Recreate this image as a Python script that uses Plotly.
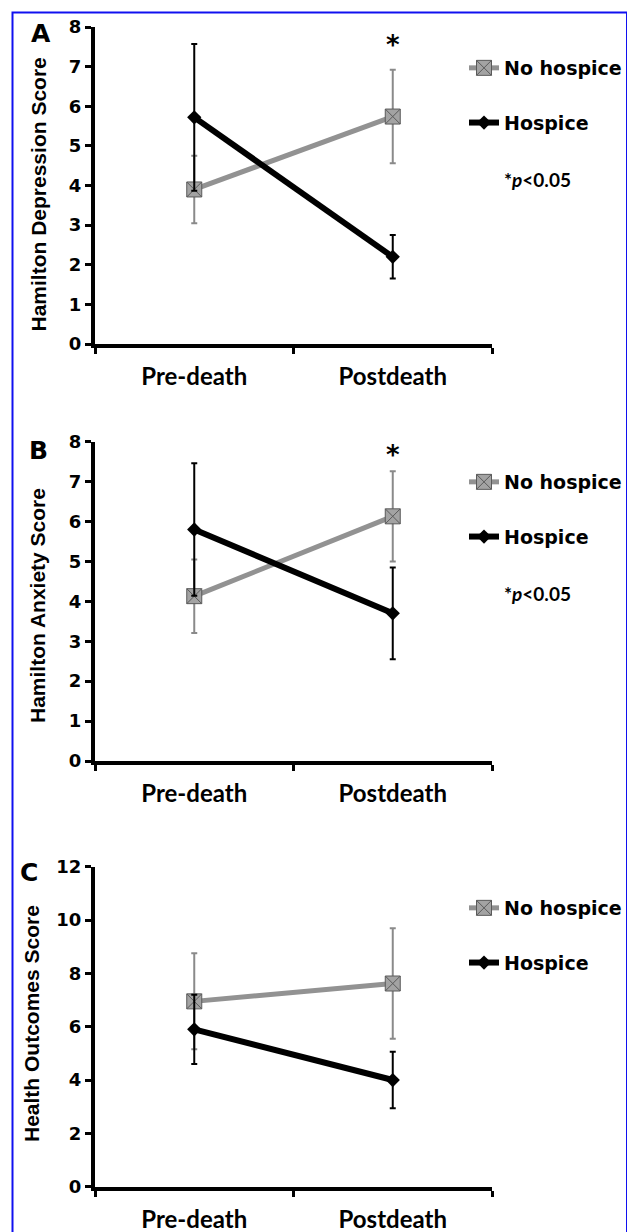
import plotly.graph_objects as go

# The page body adds an 8px offset, so the figure is sized to fill the rest of the window
OFF = 8
W, H = 635 - OFF, 1232 - OFF

categories = ["Pre-death", "Postdeath"]

# Panel A: Hamilton Depression Score
dep_no_hospice = [3.9, 5.74]
dep_no_hospice_err = [0.85, 1.18]
dep_hospice = [5.72, 2.2]
dep_hospice_err = [1.85, 0.55]

# Panel B: Hamilton Anxiety Score
anx_no_hospice = [4.13, 6.13]
anx_no_hospice_err = [0.92, 1.13]
anx_hospice = [5.8, 3.7]
anx_hospice_err = [1.66, 1.15]

# Panel C: Health Outcomes Score
hos_no_hospice = [6.95, 7.62]
hos_no_hospice_err = [1.8, 2.07]
hos_hospice = [5.9, 4.0]
hos_hospice_err = [1.3, 1.06]

panel_letters = ["A", "B", "C"]
y_titles = ["Hamilton Depression Score", "Hamilton Anxiety Score", "Health Outcomes Score"]
y_ranges = [[0, 8], [0, 8], [0, 12]]
y_dticks = [1, 1, 2]
series_names = ["No hospice", "Hospice"]
sig_note = "*<i>p</i><0.05"

GRAY_LINE = "#929292"
GRAY_ERR = "#8a8a8a"
BLACK = "#000000"

# pixel layout (in window pixels)
x_left, x_right = 95, 492
panels_px = [(27, 344), (441.7, 761), (866.7, 1186.7)]
title_pos = [(37.5, 195), (37, 606), (31, 1024)]
letter_pos = [(41, 33), (38, 450), (29, 872)]

def fx(px):
    return (px - OFF) / W

def fy(py):
    return 1 - (py - OFF) / H

data = [
    (dep_no_hospice, dep_no_hospice_err, dep_hospice, dep_hospice_err),
    (anx_no_hospice, anx_no_hospice_err, anx_hospice, anx_hospice_err),
    (hos_no_hospice, hos_no_hospice_err, hos_hospice, hos_hospice_err),
]

fig = go.Figure()
legend_names = ["legend", "legend2", "legend3"]

for i, (nh, nhe, hh, hhe) in enumerate(data):
    xa = "x" if i == 0 else f"x{i+1}"
    ya = "y" if i == 0 else f"y{i+1}"
    fig.add_trace(go.Scatter(
        x=categories, y=nh, name=series_names[0], xaxis=xa, yaxis=ya,
        mode="lines+markers", legend=legend_names[i], legendgroup=f"nh{i}",
        line=dict(color=GRAY_LINE, width=5),
        marker=dict(symbol="square-x", size=15, color="#a3a3a3",
                    line=dict(color="#5a5a5a", width=1)),
        error_y=dict(type="data", array=nhe, color=GRAY_ERR, thickness=2, width=3),
    ))
    fig.add_trace(go.Scatter(
        x=categories, y=hh, name=series_names[1], xaxis=xa, yaxis=ya,
        mode="lines+markers", legend=legend_names[i], legendgroup=f"h{i}",
        line=dict(color=BLACK, width=6),
        marker=dict(symbol="diamond", size=11, color=BLACK),
        error_y=dict(type="data", array=hhe, color=BLACK, thickness=2, width=3),
    ))

layout = dict(
    width=W, height=H,
    margin=dict(l=0, r=0, t=0, b=0),
    paper_bgcolor="white", plot_bgcolor="white",
    showlegend=True,
)

tick_font = dict(family="DejaVu Sans", size=18, color="black", weight="bold")
cat_font = dict(family="Lato", size=24, color="black", weight="bold")

annotations = []
legend_tops = [49, 463, 889]
legend_left = 464

for i, (top, bot) in enumerate(panels_px):
    xk = "xaxis" if i == 0 else f"xaxis{i+1}"
    yk = "yaxis" if i == 0 else f"yaxis{i+1}"
    ya = "y" if i == 0 else f"y{i+1}"
    xa = "x" if i == 0 else f"x{i+1}"
    layout[xk] = dict(
        domain=[fx(x_left), fx(x_right)], anchor=ya,
        type="category", range=[-0.5, 1.5],
        showline=True, linecolor="black", linewidth=4,
        ticks="outside", tickson="boundaries", ticklen=6, tickwidth=3, tickcolor="black",
        showgrid=False, zeroline=False, tickfont=cat_font, ticklabelstandoff=8,
        automargin=False, fixedrange=True,
    )
    layout[yk] = dict(
        domain=[fy(bot), fy(top)], anchor=xa,
        range=y_ranges[i], dtick=y_dticks[i], tick0=0,
        showline=True, linecolor="black", linewidth=4,
        ticks="outside", ticklen=6, tickwidth=3, tickcolor="black",
        showgrid=False, zeroline=False, tickfont=tick_font,
        automargin=False, fixedrange=True,
    )
    # panel letter
    lx, ly = letter_pos[i]
    annotations.append(dict(
        text=f"<b>{panel_letters[i]}</b>", xref="paper", yref="paper",
        x=fx(lx), y=fy(ly),
        showarrow=False, font=dict(family="DejaVu Sans", size=25, color="black"),
        xanchor="center", yanchor="middle",
    ))
    # y title
    tx, ty = title_pos[i]
    annotations.append(dict(
        text=f"<b>{y_titles[i]}</b>", xref="paper", yref="paper",
        x=fx(tx), y=fy(ty),
        textangle=-90, showarrow=False,
        font=dict(family="Liberation Sans", size=21, color="black"),
        xanchor="center", yanchor="middle",
    ))
    layout[legend_names[i]] = dict(
        x=fx(legend_left), y=fy(legend_tops[i]), xanchor="left", yanchor="top",
        traceorder="grouped", tracegroupgap=27, itemwidth=30,
        font=dict(family="DejaVu Sans", size=19, color="black", weight="bold"),
        bgcolor="rgba(0,0,0,0)", borderwidth=0,
    )

# significance marks (panels A and B)
for i, y_star in [(0, 45), (1, 455)]:
    annotations.append(dict(
        text="<b>*</b>", xref="paper", yref="paper",
        x=fx(393), y=fy(y_star), showarrow=False,
        font=dict(family="DejaVu Sans", size=26, color="black"),
        xanchor="center", yanchor="middle",
    ))
for y_p in [180, 593]:
    annotations.append(dict(
        text=sig_note, xref="paper", yref="paper",
        x=fx(502), y=fy(y_p), showarrow=False,
        font=dict(family="Lato", size=19, color="black", weight="bold"),
        xanchor="left", yanchor="middle",
    ))

layout["annotations"] = annotations
layout["shapes"] = [dict(
    type="rect", xref="paper", yref="paper",
    x0=fx(12.5), x1=fx(627), y0=fy(1250), y1=fy(12.5),
    line=dict(color="#1010f0", width=2), fillcolor="rgba(0,0,0,0)", layer="above",
)]

fig.update_layout(**layout)
fig.write_html("out.html")
